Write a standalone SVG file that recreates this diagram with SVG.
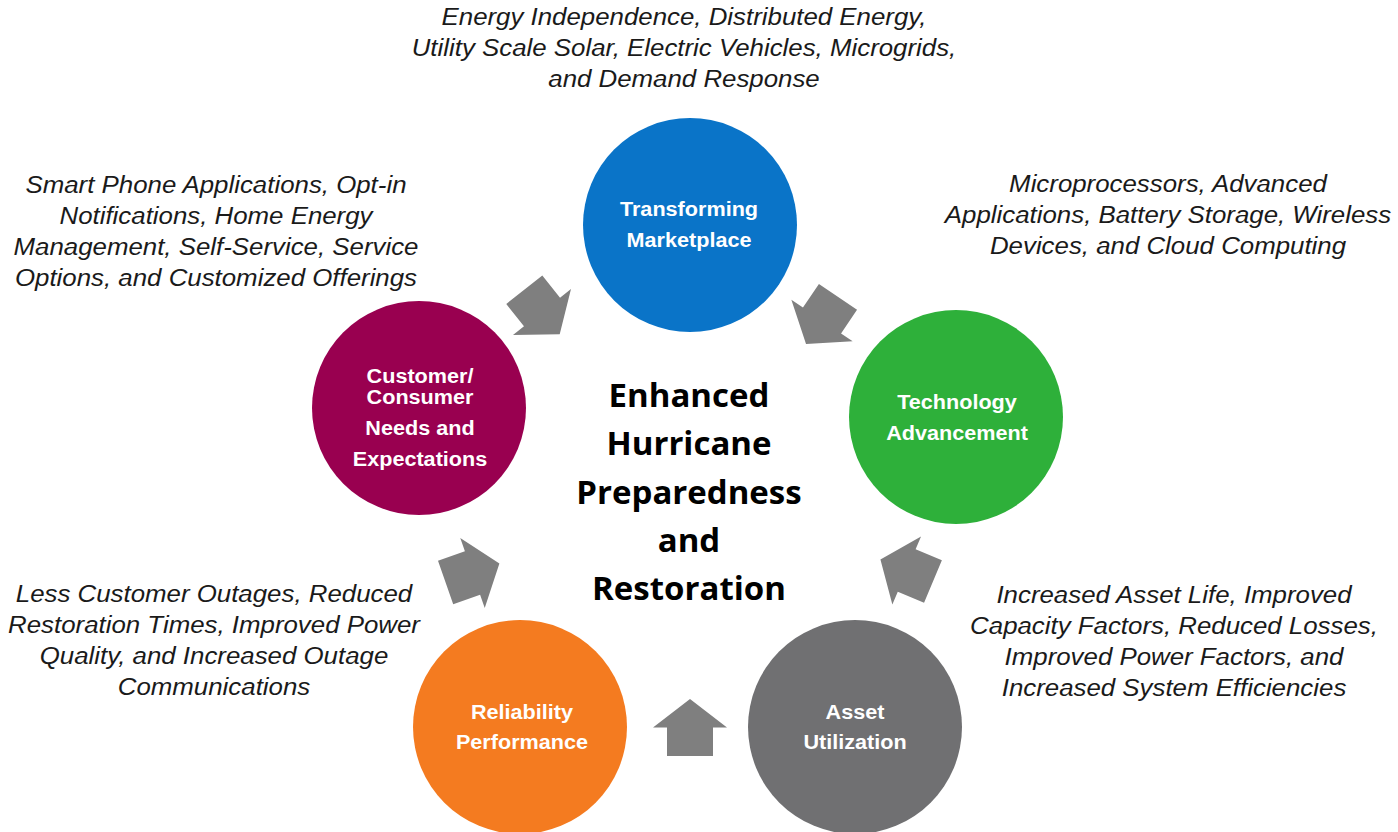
<svg xmlns="http://www.w3.org/2000/svg" xmlns:xlink="http://www.w3.org/1999/xlink" width="1398" height="832" viewBox="0 0 1398 832">
<style>
.it{font-family:"Liberation Sans",Arial,sans-serif;font-style:italic;font-size:23.5px;fill:#1a1a1a;text-anchor:middle}
.lb{font-family:"Liberation Sans",Arial,sans-serif;font-weight:bold;font-size:21px;fill:#ffffff;text-anchor:middle}
.ct{font-family:"Open Sans",sans-serif;font-weight:bold;font-size:33px;fill:#000000;text-anchor:middle}
.arr{fill:#7f7f7f}
</style>
<defs>
<path id="arr" d="M0,-28.5 L37,0 L23,0 L23,28.5 L-23,28.5 L-23,0 L-37,0 Z"/>
</defs>
<rect width="1398" height="832" fill="#ffffff"/>

<g id="connectors" class="arr">
<use xlink:href="#arr" href="#arr" transform="translate(542,312) rotate(141.6)"/>
<use xlink:href="#arr" href="#arr" transform="translate(822,320.5) rotate(-145.9)"/>
<use xlink:href="#arr" href="#arr" transform="translate(472.5,573) rotate(70.7)"/>
<use xlink:href="#arr" href="#arr" transform="translate(906.7,570.5) rotate(-67.2)"/>
<use xlink:href="#arr" href="#arr" transform="translate(690,727.5)"/>
</g>

<g id="node-marketplace">
<circle cx="690" cy="225" r="107" fill="#0a74c8"/>
<g transform="translate(689,0) scale(1.03,1)">
<text class="lb" x="0" y="216">Transforming</text>
<text class="lb" x="0" y="247">Marketplace</text>
</g>
</g>

<g id="node-customer">
<circle cx="419" cy="408" r="107" fill="#990050"/>
<g transform="translate(420,0) scale(1.03,1)">
<text class="lb" x="0" y="383">Customer/</text>
<text class="lb" x="0" y="404">Consumer</text>
<text class="lb" x="0" y="435">Needs and</text>
<text class="lb" x="0" y="466">Expectations</text>
</g>
</g>

<g id="node-technology">
<circle cx="956" cy="417" r="107" fill="#2eb03a"/>
<g transform="translate(957,0) scale(1.03,1)">
<text class="lb" x="0" y="409">Technology</text>
<text class="lb" x="0" y="440">Advancement</text>
</g>
</g>

<g id="node-reliability">
<circle cx="520" cy="727" r="107" fill="#f47b20"/>
<g transform="translate(522,0) scale(1.03,1)">
<text class="lb" x="0" y="719">Reliability</text>
<text class="lb" x="0" y="749">Performance</text>
</g>
</g>

<g id="node-asset">
<circle cx="855" cy="727" r="107" fill="#707072"/>
<g transform="translate(855,0) scale(1.03,1)">
<text class="lb" x="0" y="719">Asset</text>
<text class="lb" x="0" y="749">Utilization</text>
</g>
</g>

<g id="node-center">
<text class="ct" x="689" y="407">Enhanced</text>
<text class="ct" x="689" y="455">Hurricane</text>
<text class="ct" x="689" y="504">Preparedness</text>
<text class="ct" x="689" y="552">and</text>
<text class="ct" x="689" y="600">Restoration</text>
</g>

<g id="desc-top" transform="translate(684,0) scale(1.1,1)">
<text class="it" x="0" y="25">Energy Independence, Distributed Energy,</text>
<text class="it" x="0" y="56">Utility Scale Solar, Electric Vehicles, Microgrids,</text>
<text class="it" x="0" y="87">and Demand Response</text>
</g>

<g id="desc-topleft" transform="translate(216,0) scale(1.1,1)">
<text class="it" x="0" y="193">Smart Phone Applications, Opt-in</text>
<text class="it" x="0" y="224">Notifications, Home Energy</text>
<text class="it" x="0" y="255">Management, Self-Service, Service</text>
<text class="it" x="0" y="286">Options, and Customized Offerings</text>
</g>

<g id="desc-topright" transform="translate(1168,0) scale(1.1,1)">
<text class="it" x="0" y="192">Microprocessors, Advanced</text>
<text class="it" x="0" y="223">Applications, Battery Storage, Wireless</text>
<text class="it" x="0" y="254">Devices, and Cloud Computing</text>
</g>

<g id="desc-bottomleft" transform="translate(214,0) scale(1.1,1)">
<text class="it" x="0" y="602">Less Customer Outages, Reduced</text>
<text class="it" x="0" y="633">Restoration Times, Improved Power</text>
<text class="it" x="0" y="664">Quality, and Increased Outage</text>
<text class="it" x="0" y="695">Communications</text>
</g>

<g id="desc-bottomright" transform="translate(1174,0) scale(1.1,1)">
<text class="it" x="0" y="603">Increased Asset Life, Improved</text>
<text class="it" x="0" y="634">Capacity Factors, Reduced Losses,</text>
<text class="it" x="0" y="665">Improved Power Factors, and</text>
<text class="it" x="0" y="696">Increased System Efficiencies</text>
</g>
</svg>
